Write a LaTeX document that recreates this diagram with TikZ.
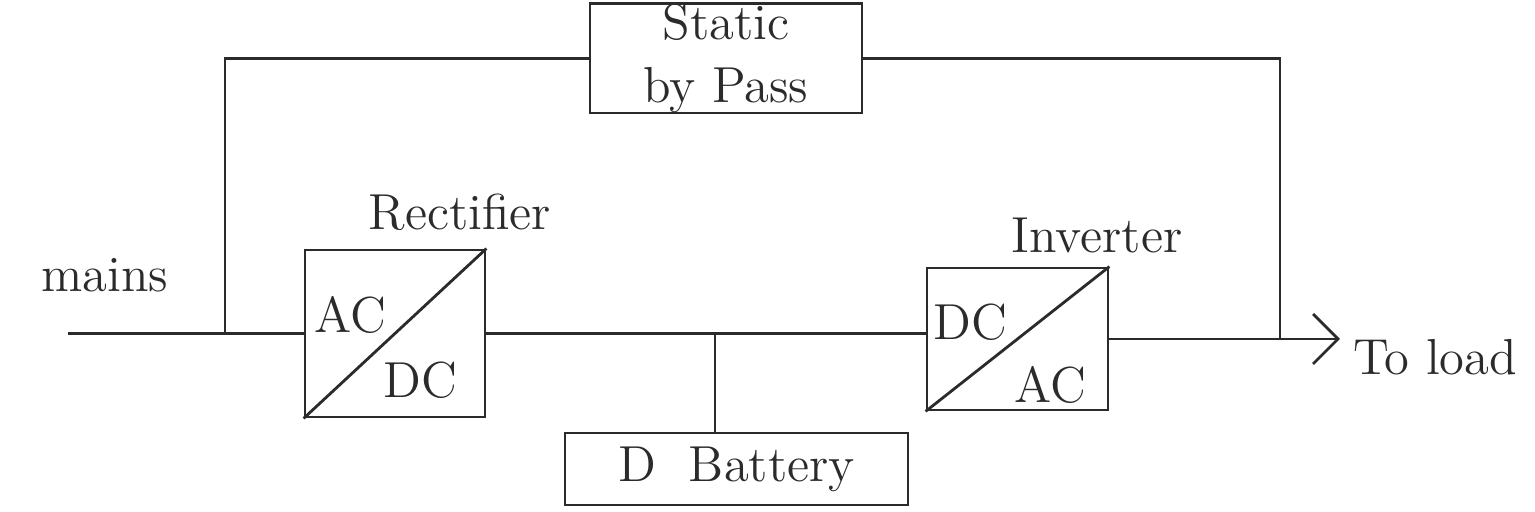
\documentclass[tikz,border=0pt]{standalone}
\usetikzlibrary{arrows.meta,positioning,calc}
\definecolor{ink}{HTML}{2B2B2B}

\begin{document}
\begin{tikzpicture}[every node/.style={font=\Large, text=ink},
    blk/.style={draw=ink, thick, inner sep=0pt},
    wire/.style={draw=ink, thick}]
        \useasboundingbox (0,0) rectangle (15.35,5.12);
        \node[blk, minimum width=2.72cm, minimum height=0.91cm, align=center] (byp) at (7.26,4.535) {Static\\by Pass};
        \node[blk, minimum width=1.8cm, minimum height=1.67cm] (rect) at (3.95,1.785) {};
        \node[blk, minimum width=1.81cm, minimum height=1.42cm] (inv) at (10.175,1.73) {};
        \node[blk, minimum width=3.43cm, minimum height=0.72cm] (bat) at (7.365,0.43) {D\ \ Battery};
        \draw[wire] (rect.south west) -- (rect.north east);
        \draw[wire] (inv.south west) -- (inv.north east);
        \node at (3.5,1.97) {AC};
        \node at (4.2,1.32) {DC};
        \node at (9.7,1.9) {DC};
        \node at (10.5,1.27) {AC};
        \node (rlbl) at (4.6,3.0) {Rectifier};
        \node (ilbl) at (10.97,2.77) {Inverter};
        \node (mlbl) at (1.05,2.37) {mains};
        \node (llbl) at (14.35,1.55) {To load};
        \coordinate (mains) at (0.68,1.785);
        \coordinate (split) at (2.25,1.785);
        \coordinate (tap) at (7.15,1.785);
        \coordinate (out) at (12.8,1.73);
        \coordinate (load) at (13.4,1.73);
        % mains side and bypass loop
        \draw[wire] (mains) -- (rect.west);
        \draw[wire] (split) |- (byp.west);
        \draw[wire] (byp.east) -| (out);
        % dc link and battery
        \draw[wire] (rect.east) -- (rect.east -| inv.west);
        \draw[wire] (tap) -- (tap |- bat.north);
        \draw[wire, -{Straight Barb[length=2.5mm]}] (inv.east) -- (load);
      \end{tikzpicture}
\end{document}
